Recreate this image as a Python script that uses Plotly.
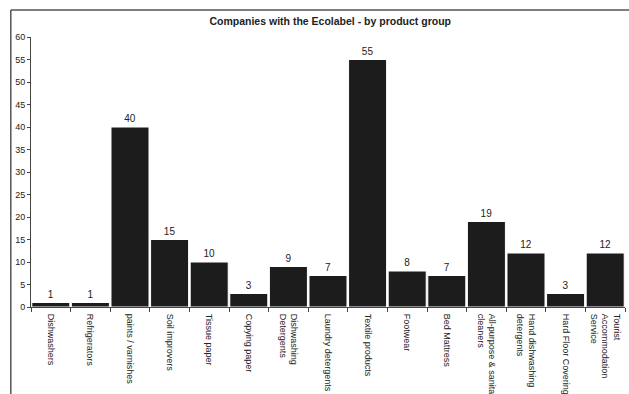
import plotly.graph_objects as go

categories = ["Dishwashers", "Refrigerators", "paints / varnishes", "Soil improvers",
              "Tissue paper", "Copying paper", "Dishwashing<br>Detergents",
              "Laundry detergents", "Textile products", "Footwear", "Bed Mattress",
              "All-purpose & sanitary<br>cleaners", "Hand dishwashing<br>detergents",
              "Hard Floor Coverings", "Tourist<br>Accommodation<br>Service"]
values = [1, 1, 40, 15, 10, 3, 9, 7, 55, 8, 7, 19, 12, 3, 12]
y_ticks = list(range(0, 61, 5))

fig = go.Figure(go.Bar(
    x=categories, y=values, text=values, textposition="outside",
    marker=dict(color="#1c1c1c", line=dict(color="#ffffff", width=1)),
    textfont=dict(size=10, color="#222"), cliponaxis=False,
))

fig.update_layout(
    width=629, height=394,
    margin=dict(l=31, r=4, t=37, b=87),
    paper_bgcolor="white", plot_bgcolor="white",
    title=dict(text="<b>Companies with the Ecolabel - by product group</b>",
               x=0.525, xanchor="center", y=0.945, yanchor="middle",
               font=dict(family="Liberation Sans, Arial", size=10.5, color="#222")),
    font=dict(family="Liberation Sans, Arial", size=9, color="#222"),
    bargap=0.04,
    showlegend=False,
)
fig.update_xaxes(tickangle=90, showline=True, linecolor="#444", linewidth=1,
                 ticks="outside", ticklen=4, tickcolor="#444", tickson="boundaries",
                 tickfont=dict(size=9), showgrid=False, automargin=False,
                 ticklabelstandoff=4)
fig.update_yaxes(range=[0, 60], tickvals=y_ticks, showline=True, linecolor="#444",
                 linewidth=1, ticks="outside", ticklen=3, tickcolor="#444",
                 showgrid=False, zeroline=False, tickfont=dict(size=9), automargin=False)

fig.add_shape(type="line", xref="paper", yref="paper", x0=-0.034, x1=-0.034,
              y0=-0.4, y1=1.1, line=dict(color="#555", width=1.5))
fig.add_shape(type="line", xref="paper", yref="paper", x0=-0.034, x1=1.01,
              y0=1.1, y1=1.1, line=dict(color="#555", width=1.5))

fig.write_html("out.html")
